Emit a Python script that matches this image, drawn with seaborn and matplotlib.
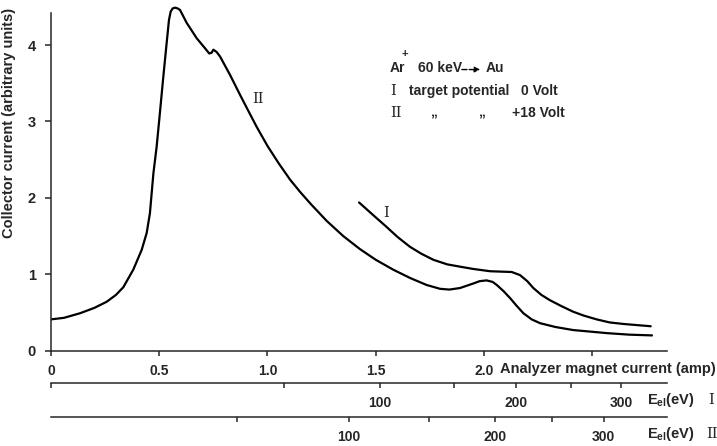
import numpy as np
import pandas as pd
import matplotlib
matplotlib.use("Agg")
import matplotlib.pyplot as plt
import seaborn as sns

# curve II: target potential +18 Volt
current_2 = [0.0, 0.06, 0.134, 0.2, 0.257, 0.3, 0.334, 0.38, 0.419, 0.442, 0.457,
             0.465, 0.473, 0.488, 0.503, 0.519, 0.534, 0.545, 0.553, 0.562, 0.573,
             0.585, 0.596, 0.627, 0.673, 0.711, 0.731, 0.742, 0.75, 0.765, 0.781,
             0.827, 0.873, 0.904, 0.95, 1.0, 1.05, 1.104, 1.15, 1.2, 1.273,
             1.35, 1.427, 1.5, 1.581, 1.66, 1.735, 1.797, 1.84, 1.889, 1.92, 1.951,
             1.98, 2.012, 2.04, 2.059, 2.09, 2.12, 2.15, 2.182, 2.22, 2.259, 2.33,
             2.412, 2.49, 2.567, 2.67, 2.776]
collector_2 = [0.41, 0.43, 0.49, 0.56, 0.64, 0.73, 0.83, 1.06, 1.32, 1.54, 1.80,
               2.06, 2.32, 2.67, 3.11, 3.59, 4.02, 4.33, 4.44, 4.48, 4.49,
               4.48, 4.46, 4.29, 4.09, 3.96, 3.89, 3.90, 3.94, 3.91, 3.85,
               3.61, 3.35, 3.18, 2.93, 2.68, 2.46, 2.24, 2.08, 1.92, 1.70,
               1.50, 1.33, 1.19, 1.06, 0.95, 0.86, 0.81, 0.80, 0.82, 0.85, 0.88,
               0.91, 0.92, 0.90, 0.86, 0.78, 0.69, 0.59, 0.49, 0.41, 0.36, 0.31,
               0.27, 0.25, 0.23, 0.21, 0.20]

# curve I: target potential 0 Volt
current_1 = [1.423, 1.49, 1.55, 1.6, 1.658, 1.71, 1.766, 1.83, 1.889, 1.95, 2.028,
             2.128, 2.166, 2.2, 2.228, 2.265, 2.305, 2.36, 2.412, 2.46, 2.52, 2.58,
             2.643, 2.77]
collector_1 = [1.94, 1.77, 1.62, 1.49, 1.36, 1.27, 1.19, 1.13, 1.10, 1.07, 1.04,
               1.03, 0.99, 0.91, 0.82, 0.73, 0.66, 0.58, 0.51, 0.46, 0.41, 0.37,
               0.35, 0.32]

x_ticks = [0, 0.5, 1.0, 1.5, 2.0, 2.5]
x_tick_labels = ["0", "0.5", "1.0", "1.5", "2.0", ""]
y_ticks = [0, 1, 2, 3, 4]
energy_ticks_1 = [0, 50, 100, 150, 200, 250, 300]
energy_ticks_2 = [50, 100, 150, 200, 250, 300]

ENERGY_PER_AMP2 = 43.3   # E_el = k * I^2
TARGET_POTENTIAL = 18.0  # curve II is shifted by the target bias


def to_energy_1(i):
    return ENERGY_PER_AMP2 * np.asarray(i, float) ** 2


def from_energy_1(e):
    return np.sqrt(np.clip(np.asarray(e, float), 0, None) / ENERGY_PER_AMP2)


def to_energy_2(i):
    return ENERGY_PER_AMP2 * np.asarray(i, float) ** 2 + TARGET_POTENTIAL


def from_energy_2(e):
    return np.sqrt(np.clip(np.asarray(e, float) - TARGET_POTENTIAL, 0, None) / ENERGY_PER_AMP2)


def energy_labels(ticks):
    return [str(t) if t % 100 == 0 and t > 0 else "" for t in ticks]


sns.set_style("ticks")
plt.rcParams["font.family"] = ["Liberation Sans", "DejaVu Sans"]
plt.rcParams["font.weight"] = "bold"
plt.rcParams["mathtext.fontset"] = "custom"
plt.rcParams["mathtext.rm"] = "Liberation Sans:bold"
plt.rcParams["axes.linewidth"] = 1.1
plt.rcParams["xtick.major.width"] = 1.1
plt.rcParams["ytick.major.width"] = 1.1

curves = pd.concat([
    pd.DataFrame({"current": current_2, "collector": collector_2, "curve": "II"}),
    pd.DataFrame({"current": current_1, "collector": collector_1, "curve": "I"}),
])

fig = plt.figure(figsize=(7.17, 4.46), dpi=100)
ax = fig.add_axes([0.0711, 0.2137, 0.8591, 0.7794])

sns.lineplot(data=curves, x="current", y="collector", units="curve", estimator=None,
             sort=False, color="black", linewidth=1.6, ax=ax)

ax.set_xlim(0, 2.845)
ax.set_ylim(0, 4.55)
sns.despine(ax=ax)
ax.spines["left"].set_bounds(0, 4.42)
ax.set_xticks(x_ticks)
ax.set_xticklabels(x_tick_labels)
ax.set_yticks(y_ticks)
ax.tick_params(axis="x", direction="out", length=3.5, pad=6, labelsize=10)
ax.tick_params(axis="y", direction="out", length=4, pad=7, labelsize=10.5)
ax.set_xlabel("")
ax.set_ylabel("Collector current (arbitrary units)", fontsize=10.5, fontweight="bold")
ax.yaxis.set_label_coords(-0.056, 0.654)

# the two electron energy scales under the current axis
sec1 = ax.secondary_xaxis(-0.0938, functions=(to_energy_1, from_energy_1))
sec1.set_xticks(energy_ticks_1)
sec1.set_xticklabels(energy_labels(energy_ticks_1))
sec2 = ax.secondary_xaxis(-0.1916, functions=(to_energy_2, from_energy_2))
sec2.set_xticks(energy_ticks_2)
sec2.set_xticklabels(energy_labels(energy_ticks_2))
for sec in (sec1, sec2):
    sec.tick_params(axis="x", direction="out", length=3.5, pad=6, labelsize=10)
    sec.spines["bottom"].set_linewidth(1.1)

roman = dict(family=["DejaVu Serif"], fontsize=10.5, fontweight="normal")

fig.text(0.6974, 0.1733, "Analyzer magnet current (amp)", fontsize=10.5, va="center")
fig.text(0.9024, 0.1031, r"E$_{\mathrm{el}}$(eV)", fontsize=10.5, va="center")
fig.text(0.9875, 0.1031, "I", va="center", **roman)
fig.text(0.9024, 0.0269, r"E$_{\mathrm{el}}$(eV)", fontsize=10.5, va="center")
fig.text(0.9850, 0.0269, "II", va="center", **roman)

# curve labels
ax.text(0.956, 3.29, "II", ha="center", va="center", **roman)
ax.text(1.55, 1.80, "I", ha="center", va="center", **roman)

# experiment description
ax.text(1.566, 3.70, "Ar", fontsize=10, va="center")
ax.text(1.620, 3.88, "+", fontsize=8, va="center")
ax.text(1.694, 3.70, "60 keV", fontsize=10, va="center")
ax.annotate("", xy=(1.995, 3.68), xytext=(1.885, 3.68),
            arrowprops=dict(arrowstyle="-|>", color="black", lw=1.0, linestyle="--",
                            mutation_scale=8))
ax.text(2.009, 3.70, "Au", fontsize=10, va="center")
ax.text(1.566, 3.40, "I", va="center", **roman)
ax.text(1.654, 3.40, "target potential", fontsize=10, va="center")
ax.text(2.171, 3.40, "0 Volt", fontsize=10, va="center")
ax.text(1.566, 3.11, "II", va="center", **roman)
ax.text(1.75, 3.13, "\u201e", fontsize=10, va="center")
ax.text(1.972, 3.13, "\u201e", fontsize=10, va="center")
ax.text(2.129, 3.11, "+18 Volt", fontsize=10, va="center")

fig.savefig("out.png", dpi=100)
